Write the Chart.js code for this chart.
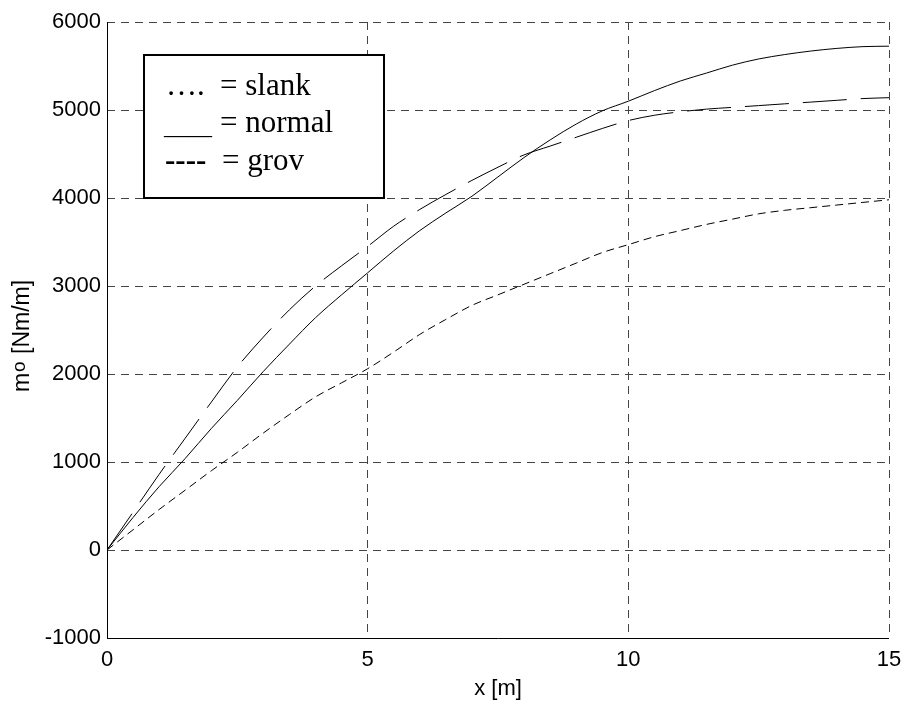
<!DOCTYPE html>
<html>
<head>
<meta charset="utf-8">
<script src="https://cdn.jsdelivr.net/npm/chart.js@4/dist/chart.umd.min.js"></script>
<style>
  html, body { margin: 0; padding: 0; background: #fff; }
  #wrap { width: 903px; height: 702px; }
</style>
</head>
<body>
<div id="wrap"><canvas id="chart"></canvas></div>
<script>
const xValues = [0, 0.5, 1, 1.5, 2, 2.5, 3, 3.5, 4, 4.5, 5, 5.5, 6, 6.5, 7, 7.5, 8, 8.5, 9, 9.5, 10, 10.5, 11, 11.5, 12, 12.5, 13, 13.5, 14, 14.5, 15];
const normalValues = [0, 370, 720, 1040, 1380, 1700, 2030, 2340, 2640, 2900, 3150, 3400, 3630, 3830, 4020, 4240, 4460, 4660, 4840, 4990, 5100, 5220, 5330, 5420, 5510, 5580, 5630, 5670, 5700, 5720, 5725];
const grovValues = [0, 430, 860, 1270, 1680, 2080, 2420, 2730, 3000, 3230, 3450, 3680, 3870, 4040, 4200, 4350, 4490, 4590, 4690, 4790, 4880, 4940, 4980, 5010, 5030, 5050, 5070, 5090, 5110, 5130, 5140];
const slankValues = [0, 230, 460, 680, 900, 1110, 1330, 1540, 1740, 1900, 2060, 2250, 2450, 2620, 2780, 2900, 3020, 3140, 3260, 3380, 3470, 3560, 3630, 3700, 3760, 3820, 3860, 3890, 3920, 3950, 3980];
const legendLines = [["\u2026.", "= slank"], ["____", "= normal"], ["----", "= grov"]];
const xTitle = "x [m]";

function pts(ys) {
  return xValues.map((x, i) => ({ x: x, y: ys[i] }));
}

// box legend, solid axis lines and y title drawn on canvas
const boxLegend = {
  id: "boxLegend",
  afterDraw(chart) {
    const ctx = chart.ctx;
    const a = chart.chartArea;
    ctx.save();
    ctx.strokeStyle = "#000";
    ctx.lineWidth = 1;
    ctx.beginPath();
    ctx.moveTo(a.left + 0.5, a.top);
    ctx.lineTo(a.left + 0.5, a.bottom + 0.5);
    ctx.lineTo(a.right, a.bottom + 0.5);
    ctx.stroke();

    const bx = a.left + 37, by = a.top + 33, bw = 240, bh = 143;
    ctx.fillStyle = "#fff";
    ctx.fillRect(bx, by, bw, bh);
    ctx.lineWidth = 2;
    ctx.strokeRect(bx, by, bw, bh);
    ctx.fillStyle = "#000";
    ctx.textBaseline = "alphabetic";
    const serif = "'Liberation Serif'";
    ctx.font = "31px " + serif;
    ctx.fillText(legendLines[0][0], bx + 22, by + 40);
    ctx.font = "24px " + serif;
    ctx.fillText(legendLines[1][0], bx + 20, by + 79);
    ctx.font = "bold 31px " + serif;
    ctx.fillText(legendLines[2][0], bx + 21, by + 115);
    ctx.font = "31px " + serif;
    ctx.fillText(legendLines[0][1], bx + 76, by + 40);
    ctx.fillText(legendLines[1][1], bx + 76, by + 77);
    ctx.fillText(legendLines[2][1], bx + 78, by + 115);

    // y title: m with raised small o
    ctx.translate(29, 337);
    ctx.rotate(-Math.PI / 2);
    ctx.textAlign = "left";
    ctx.font = "23px 'Liberation Sans'";
    const mW = ctx.measureText("m").width;
    ctx.font = "19px 'Liberation Sans'";
    const oW = ctx.measureText("o").width;
    ctx.font = "23px 'Liberation Sans'";
    const rW = ctx.measureText(" [Nm/m]").width;
    const x0 = -(mW + oW + rW) / 2;
    ctx.fillText("m", x0, 0);
    ctx.font = "19px 'Liberation Sans'";
    ctx.fillText("o", x0 + mW + 1, -4);
    ctx.font = "23px 'Liberation Sans'";
    ctx.fillText(" [Nm/m]", x0 + mW + oW + 2, 0);
    ctx.restore();
  }
};

const gridStyle = { color: "#444", lineWidth: 1, drawTicks: false };
const tickFont = { family: "'Liberation Sans'", size: 22 };

new Chart(document.getElementById("chart").getContext("2d"), {
  type: "line",
  data: {
    datasets: [
      { label: "normal", data: pts(normalValues), borderColor: "#000", borderWidth: 1, pointRadius: 0, cubicInterpolationMode: "monotone" },
      { label: "grov", data: pts(grovValues), borderColor: "#000", borderWidth: 1, borderDash: [44, 14], pointRadius: 0, cubicInterpolationMode: "monotone" },
      { label: "slank", data: pts(slankValues), borderColor: "#000", borderWidth: 1, borderDash: [8, 5], pointRadius: 0, cubicInterpolationMode: "monotone" }
    ]
  },
  options: {
    responsive: true,
    maintainAspectRatio: false,
    animation: false,
    layout: { padding: { left: 0, top: 22, right: 0, bottom: 0 } },
    plugins: {
      legend: { display: false },
      tooltip: { enabled: false }
    },
    scales: {
      x: {
        type: "linear",
        min: 0,
        max: 15,
        ticks: { stepSize: 5, color: "#000", font: tickFont, padding: 9, maxRotation: 0, callback: (v) => String(v) },
        grid: gridStyle,
        border: { display: false, dash: [8, 6] },
        title: { display: true, text: xTitle, color: "#000", font: tickFont, padding: { top: 0, bottom: 0 } },
        afterFit(s) { s.height = 64; s.paddingRight = 14; s.paddingLeft = 0; }
      },
      y: {
        min: -1000,
        max: 6000,
        ticks: { stepSize: 1000, color: "#000", font: tickFont, padding: 6, callback: (v) => String(v) },
        grid: gridStyle,
        border: { display: false, dash: [8, 6] },
        afterFit(s) { s.width = 107; }
      }
    }
  },
  plugins: [boxLegend]
});
</script>
</body>
</html>
